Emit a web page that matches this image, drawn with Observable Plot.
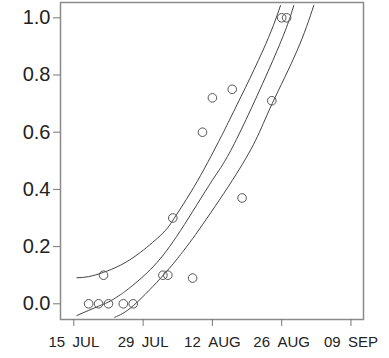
<!DOCTYPE html>
<html>
<head>
<meta charset="utf-8">
<script src="https://cdn.jsdelivr.net/npm/d3@7"></script>
<script src="https://cdn.jsdelivr.net/npm/@observablehq/plot@0.6"></script>
<style>
  html, body { margin: 0; padding: 0; background: #fff; }
  #chart svg { display: block; }
</style>
</head>
<body>
<div id="chart"></div>
<script>
// Observed points (date in year, proportion)
const pointDates = ["07-18","07-20","07-21","07-22","07-25","07-27","08-02","08-03","08-04","08-08","08-10","08-12","08-16","08-18","08-24","08-26","08-27"];
const pointValues = [0, 0, 0.10, 0, 0, 0, 0.10, 0.10, 0.30, 0.09, 0.60, 0.72, 0.75, 0.37, 0.71, 1.0, 1.0];

// Curves: days since 15 JUL, value
const upperDays   = [0.61, 3.0, 6.0, 9.43, 13.47, 17.86, 20.2, 24.93, 29.64, 31.66, 38.06, 41.76];
const upperValues = [0.091, 0.095, 0.11, 0.135, 0.18, 0.245, 0.297, 0.428, 0.58, 0.65, 0.88, 1.043];
const fitDays     = [0.61, 5.05, 7.41, 9.43, 11.45, 16.16, 21.56, 27.96, 32.87, 41.09, 44.44];
const fitValues   = [-0.041, -0.008, 0.01, 0.032, 0.058, 0.132, 0.256, 0.431, 0.575, 0.886, 1.043];
const lowerDays   = [8.28, 12.12, 18.18, 21.56, 25.25, 32.0, 36.71, 40.08, 45.13, 48.48];
const lowerValues = [-0.047, -0.005, 0.102, 0.172, 0.258, 0.431, 0.571, 0.7, 0.886, 1.043];

// Axis ticks
const xTickDates  = ["07-15", "07-29", "08-12", "08-26", "09-09"];
const xTickLabels = ["15\u2002JUL", "29\u2002JUL", "12\u2002AUG", "26\u2002AUG", "09\u2002SEP"];
const yTicks = [0, 0.2, 0.4, 0.6, 0.8, 1.0];

const YEAR = 2001;
const toDate = (s) => new Date(Date.UTC(YEAR, +s.slice(0, 2) - 1, +s.slice(3, 5)));
const base = toDate("07-15");
const fromDays = (d) => new Date(base.getTime() + d * 86400000);

const points = pointDates.map((d, i) => ({date: toDate(d), value: pointValues[i]}));
const mk = (days, vals, name) => days.map((d, i) => ({date: fromDays(d), value: vals[i], curve: name}));
const curves = [
  ...mk(upperDays, upperValues, "upper"),
  ...mk(fitDays, fitValues, "fit"),
  ...mk(lowerDays, lowerValues, "lower")
];
const xTicks = xTickDates.map(toDate);

const chart = Plot.plot({
  width: 389,
  height: 358,
  marginLeft: 60,
  marginRight: 26,
  marginTop: 2,
  marginBottom: 39,
  style: {fontFamily: "'Liberation Sans', Arial, sans-serif", color: "#222", background: "#fff"},
  x: {type: "utc", domain: [fromDays(-2.69), fromDays(58.53)]},
  y: {domain: [-0.0549, 1.0535]},
  marks: [
    Plot.frame({stroke: "#8a8a8a", strokeWidth: 1.5}),
    Plot.axisX({
      ticks: xTicks,
      tickFormat: (d) => xTickLabels[xTicks.findIndex(t => +t === +d)],
      tickSize: 7, tickPadding: 10, stroke: "#777", fill: "#222",
      fontSize: 15, label: null
    }),
    Plot.axisY({
      ticks: yTicks,
      tickFormat: d3.format(".1f"),
      tickSize: 7, tickPadding: 3, stroke: "#777", fill: "#222",
      fontSize: 20, label: null
    }),
    Plot.line(curves, {x: "date", y: "value", z: "curve", stroke: "#444", strokeWidth: 1, curve: "natural", clip: true}),
    Plot.dot(points, {x: "date", y: "value", r: 4.3, stroke: "#555", strokeWidth: 1, fill: "none"})
  ]
});
// enlarge y tick labels (end-anchored text)
d3.select(chart).selectAll("text").each(function() {
  const t = d3.select(this);
  const anchor = t.attr("text-anchor") || (this.parentNode && this.parentNode.getAttribute("text-anchor"));
  if (anchor === "end") t.style("font-size", "20px");
  else t.style("font-size", "15px");
});
document.getElementById("chart").appendChild(chart);
</script>
</body>
</html>
